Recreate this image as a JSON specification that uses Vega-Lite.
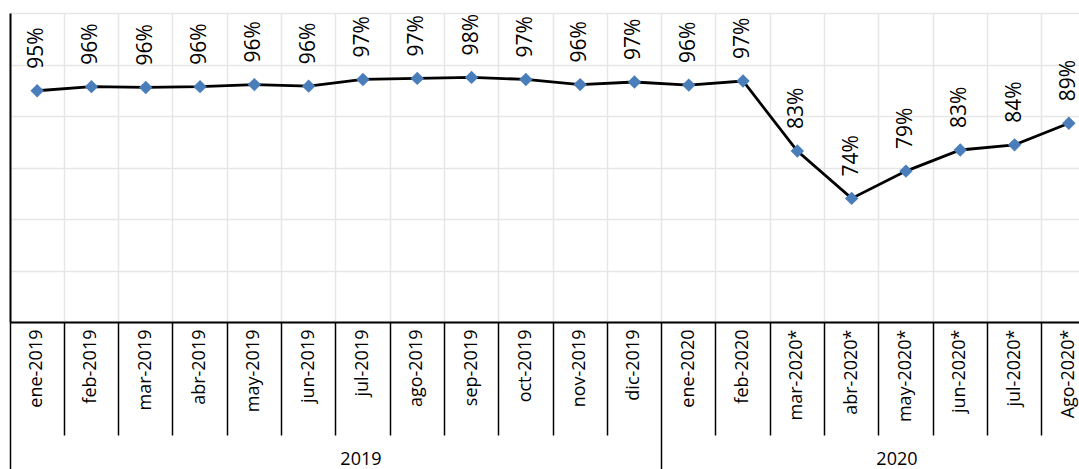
{
  "$schema": "https://vega.github.io/schema/vega-lite/v6.json",
  "width": 1086,
  "height": 309,
  "autosize": "none",
  "padding": {"left": 10, "top": 13, "right": 0, "bottom": 147},
  "config": {"view": {"stroke": null}, "font": "Open Sans", "background": "white"},
  "data": {"values": [
    {"mes": "ene-2019", "v": 0.949},
    {"mes": "feb-2019", "v": 0.957},
    {"mes": "mar-2019", "v": 0.9555},
    {"mes": "abr-2019", "v": 0.957},
    {"mes": "may-2019", "v": 0.961},
    {"mes": "jun-2019", "v": 0.958},
    {"mes": "jul-2019", "v": 0.971},
    {"mes": "ago-2019", "v": 0.973},
    {"mes": "sep-2019", "v": 0.975},
    {"mes": "oct-2019", "v": 0.971},
    {"mes": "nov-2019", "v": 0.961},
    {"mes": "dic-2019", "v": 0.966},
    {"mes": "ene-2020", "v": 0.960},
    {"mes": "feb-2020", "v": 0.968},
    {"mes": "mar-2020*", "v": 0.832},
    {"mes": "abr-2020*", "v": 0.740},
    {"mes": "may-2020*", "v": 0.793},
    {"mes": "jun-2020*", "v": 0.834},
    {"mes": "jul-2020*", "v": 0.844},
    {"mes": "Ago-2020*", "v": 0.886}
  ]},
  "encoding": {
    "y": {
      "field": "v", "type": "quantitative",
      "scale": {"domain": [0.5, 1.1], "nice": false, "zero": false},
      "axis": {
        "title": null, "values": [0.5, 0.6, 0.7, 0.8, 0.9, 1.0, 1.1],
        "labels": false, "ticks": false, "tickSize": 0,
        "grid": true, "gridColor": "#e6e6e6", "gridWidth": 1.5,
        "domain": true, "domainColor": "#000000", "domainWidth": 2
      }
    }
  },
  "layer": [
    {
      "mark": {"type": "line", "color": "#000000", "strokeWidth": 2.8},
      "encoding": {
        "x": {
          "field": "mes", "type": "ordinal", "sort": null,
          "scale": {"type": "band", "paddingInner": 0, "paddingOuter": 0},
          "axis": {
            "orient": "bottom", "title": null, "bandPosition": 0,
            "grid": true, "gridColor": "#e6e6e6", "gridWidth": 1.5,
            "ticks": true, "tickColor": "#000000", "tickWidth": 1.5,
            "tickSize": {"condition": {"test": "datum.value == 'ene-2019' || datum.value == 'ene-2020'", "value": 147}, "value": 113},
            "labels": false,
            "domain": true, "domainColor": "#000000", "domainWidth": 2
          }
        }
      }
    },
    {
      "mark": {"type": "point", "shape": "diamond", "filled": true, "size": 180, "color": "#4a7ebb", "opacity": 1},
      "encoding": {
        "x": {
          "field": "mes", "type": "ordinal", "sort": null,
          "axis": {
            "orient": "bottom", "title": null,
            "grid": false, "ticks": false, "tickSize": 0, "domain": false,
            "labelAngle": -90, "labelAlign": "right", "labelBaseline": "middle",
            "labelPadding": 7, "labelFontSize": 18, "labelColor": "#000000",
            "labelFont": "Open Sans", "labelOverlap": false
          }
        }
      }
    },
    {
      "mark": {"type": "text", "angle": 270, "align": "left", "baseline": "middle", "dx": 22, "fontSize": 21, "font": "Open Sans", "color": "#000000"},
      "encoding": {
        "x": {
          "field": "mes", "type": "ordinal", "sort": null,
          "axis": {
            "orient": "bottom", "title": null,
            "values": ["jul-2019", "may-2020*"], "bandPosition": 0,
            "labelExpr": "datum.value == 'jul-2019' ? '2019' : '2020'",
            "labelOffset": {"condition": {"test": "datum.value == 'may-2020*'", "value": -9}, "value": -2},
            "grid": false, "ticks": false, "tickSize": 0, "domain": false,
            "labelAngle": 0, "labelAlign": "center", "labelBaseline": "top",
            "labelPadding": 128, "labelFontSize": 18, "labelColor": "#000000",
            "labelFont": "Open Sans", "labelOverlap": false
          }
        },
        "text": {"field": "v", "type": "quantitative", "format": ".0%"}
      }
    }
  ],
  "resolve": {"axis": {"x": "independent"}}
}
